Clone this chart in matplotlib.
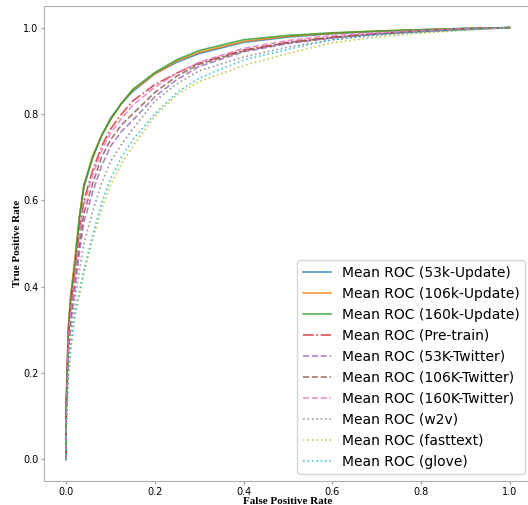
import matplotlib
matplotlib.use('Agg')
import matplotlib.pyplot as plt

# shared false positive rate grid
fpr = [0, 0, 0.005, 0.01, 0.02, 0.03, 0.04, 0.06, 0.08, 0.10, 0.125, 0.15,
       0.20, 0.25, 0.30, 0.40, 0.50, 0.60, 0.70, 0.80, 0.90, 1.0]

tpr_53k_update = [0, .12, .30, .37, .46, .56, .63, .70, .75, .79, .825, .852,
                  .893, .92, .94, .966, .978, .986, .991, .995, .998, 1]
tpr_106k_update = [0, .13, .31, .38, .47, .565, .635, .705, .75, .787, .825, .855,
                   .893, .923, .943, .968, .98, .987, .992, .995, .998, 1]
tpr_160k_update = [0, .12, .30, .37, .455, .56, .635, .70, .75, .787, .825, .857,
                   .896, .926, .947, .972, .982, .988, .992, .995, .998, 1]
tpr_pretrain = [0, .11, .28, .35, .44, .53, .60, .67, .725, .765, .80, .83,
                .868, .895, .918, .948, .966, .978, .986, .992, .997, 1]
tpr_53k_twitter = [0, .09, .25, .31, .40, .48, .55, .62, .68, .725, .76, .785,
                   .84, .88, .91, .944, .963, .976, .985, .991, .996, 1]
tpr_106k_twitter = [0, .10, .26, .33, .42, .50, .57, .64, .70, .74, .775, .80,
                    .85, .888, .915, .946, .965, .977, .985, .991, .996, 1]
tpr_160k_twitter = [0, .10, .27, .34, .43, .52, .59, .66, .715, .755, .79, .82,
                    .862, .895, .92, .952, .97, .982, .988, .993, .997, 1]
tpr_w2v = [0, .08, .23, .29, .37, .44, .50, .575, .64, .69, .73, .765,
           .83, .87, .90, .932, .955, .972, .983, .99, .995, 1]
tpr_fasttext = [0, .06, .19, .25, .33, .38, .43, .51, .58, .635, .685, .725,
                .795, .845, .875, .912, .94, .965, .978, .987, .994, 1]
tpr_glove = [0, .07, .20, .26, .34, .39, .44, .52, .595, .65, .70, .74,
             .80, .85, .883, .925, .95, .972, .983, .99, .995, 1]

curvas = [
    (tpr_53k_update, 'Mean ROC (53k-Update)', 'C0', '-'),
    (tpr_106k_update, 'Mean ROC (106k-Update)', 'C1', '-'),
    (tpr_160k_update, 'Mean ROC (160k-Update)', 'C2', '-'),
    (tpr_pretrain, 'Mean ROC (Pre-train)', 'C3', '-.'),
    (tpr_53k_twitter, 'Mean ROC (53K-Twitter)', 'C4', '--'),
    (tpr_106k_twitter, 'Mean ROC (106K-Twitter)', 'C5', '--'),
    (tpr_160k_twitter, 'Mean ROC (160K-Twitter)', 'C6', '--'),
    (tpr_w2v, 'Mean ROC (w2v)', 'C7', ':'),
    (tpr_fasttext, 'Mean ROC (fasttext)', 'C8', ':'),
    (tpr_glove, 'Mean ROC (glove)', 'C9', ':'),
]

fig = plt.figure(figsize=(5.28, 5.05), dpi=100)
ax = fig.add_axes([0.0833, 0.0475, 0.9242, 0.9406])

for tpr, nome, cor, estilo in curvas:
    ax.plot(fpr, tpr, color=cor, linestyle=estilo, lw=1.2, alpha=0.8, label=nome)

ax.set_xlim(-0.05, 1.05)
ax.set_ylim(-0.05, 1.05)
ax.set_xticks([0, 0.2, 0.4, 0.6, 0.8, 1.0])
ax.set_yticks([0, 0.2, 0.4, 0.6, 0.8, 1.0])
ax.tick_params(labelsize=7, length=2, pad=2, color='#999999')
for s in ax.spines.values():
    s.set_color('#b0b0b0')

ax.set_xlabel('False Positive Rate', family='Liberation Serif', fontweight='bold',
              fontsize=8, labelpad=0)
ax.set_ylabel('True Positive Rate', family='Liberation Serif', fontweight='bold',
              fontsize=8, labelpad=1)

ax.legend(loc='lower right', fontsize=10, edgecolor='#cccccc')

fig.savefig('out.png', dpi=100)
